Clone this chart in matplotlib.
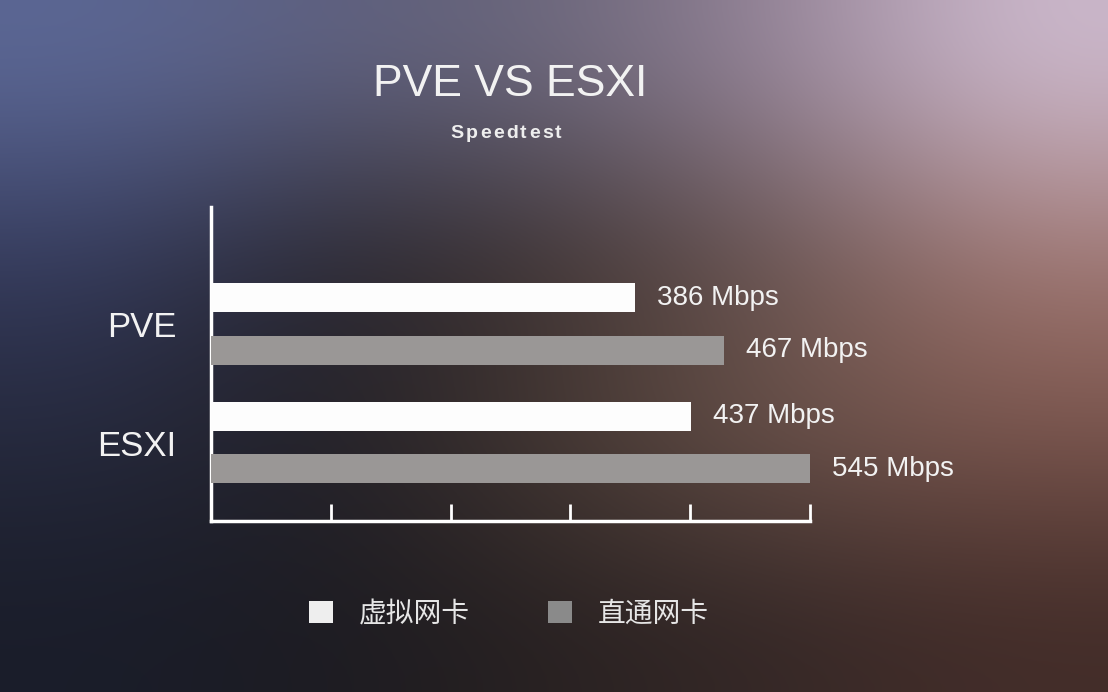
import numpy as np
import matplotlib
matplotlib.use("Agg")
import matplotlib.pyplot as plt
from matplotlib.patches import Patch

# ---- data ----
categories = ["PVE", "ESXI"]
series_names = ["虚拟网卡", "直通网卡"]
virtual_nic = [386, 437]        # Mbps, 虚拟网卡
passthrough_nic = [467, 545]    # Mbps, 直通网卡
value_unit = "Mbps"
title = "PVE VS ESXI"
subtitle = "Speedtest"

# ---- styling ----
W, H, DPI = 1108, 692, 100
white_bar = "#fdfdfd"
gray_bar = "#9a9796"
text_color = "#f2f2f2"
plt.rcParams['font.family'] = ['Liberation Sans', 'Noto Sans CJK SC', 'DejaVu Sans']

fig = plt.figure(figsize=(W / DPI, H / DPI), dpi=DPI)

# background gradient (control grid, smoothly interpolated)
grid = np.array([
    [(92, 104, 150), (95, 97, 128), (108, 104, 124), (150, 132, 152), (205, 186, 206)],
    [(52, 58, 92), (36, 34, 42), (58, 46, 44), (100, 80, 76), (160, 118, 112)],
    [(38, 42, 62), (34, 32, 38), (74, 60, 54), (110, 86, 78), (124, 86, 78)],
    [(26, 29, 42), (28, 27, 33), (40, 33, 33), (52, 39, 38), (66, 44, 40)],
], dtype=float) / 255.0
bg = fig.add_axes([0, 0, 1, 1], zorder=-10)
bg.imshow(grid, aspect="auto", interpolation="bicubic", extent=[0, 1, 0, 1], origin="upper")
bg.set_axis_off()

# main axes
ax = fig.add_axes([211 / W, 1 - 521 / H, (810 - 211) / W, (521 - 207) / H])
ax.patch.set_alpha(0)

y = np.arange(len(categories))
off = 0.22
h = 0.245
ax.barh(y - off, virtual_nic, height=h, color=white_bar, label=series_names[0], zorder=3)
ax.barh(y + off, passthrough_nic, height=h, color=gray_bar, label=series_names[1], zorder=3)

xmax = max(passthrough_nic + virtual_nic)
ax.set_xlim(0, xmax)
ax.set_ylim(1.662, -0.987)

for vals, dy in ((virtual_nic, -off), (passthrough_nic, off)):
    for i, v in enumerate(vals):
        ax.annotate(f"{v} {value_unit}", xy=(v, i + dy), xytext=(22, 0),
                    textcoords="offset pixels",
                    va="center", ha="left", color=text_color, fontsize=20)

ax.set_yticks(y)
ax.set_yticklabels(categories, fontsize=25, color=text_color)
ax.tick_params(axis="y", length=0, pad=25)
ax.set_xticks(np.linspace(0, xmax, 6))
ax.set_xticklabels([])
ax.tick_params(axis="x", direction="in", length=12, width=2, color="white")

for s in ("top", "right"):
    ax.spines[s].set_visible(False)
for s in ("left", "bottom"):
    ax.spines[s].set_color("white")
    ax.spines[s].set_linewidth(2.5)

cx = (211 + 810) / 2 / W
fig.text(cx, 1 - 85 / H, title, ha="center", va="center", fontsize=32, color=text_color)

# letter-spaced subtitle
renderer = fig.canvas.get_renderer()
spacing = 2.3  # px
chars = []
widths = []
for ch in subtitle:
    t = fig.text(0, 0, ch, fontsize=14, fontweight="bold", color="#eeeeee", va="center", ha="left")
    widths.append(t.get_window_extent(renderer).width)
    chars.append(t)
total = sum(widths) + spacing * (len(widths) - 1)
xpix = 506 - total / 2
for t, w in zip(chars, widths):
    t.set_position((xpix / W, 1 - 133 / H))
    xpix += w + spacing

handles = [Patch(facecolor="#eeeeee", edgecolor="none"),
           Patch(facecolor="#8a8a8a", edgecolor="none")]
leg = fig.legend(handles, series_names, loc="center", bbox_to_anchor=(509 / W, 1 - 614 / H),
                 ncol=2, frameon=False, handlelength=0.85, handleheight=0.85,
                 handletextpad=0.95, columnspacing=2.8,
                 prop={'family': ['Noto Sans CJK SC', 'DejaVu Sans'], 'size': 20})
for t in leg.get_texts():
    t.set_color("#e6e6e6")

fig.savefig("out.png", dpi=DPI)
